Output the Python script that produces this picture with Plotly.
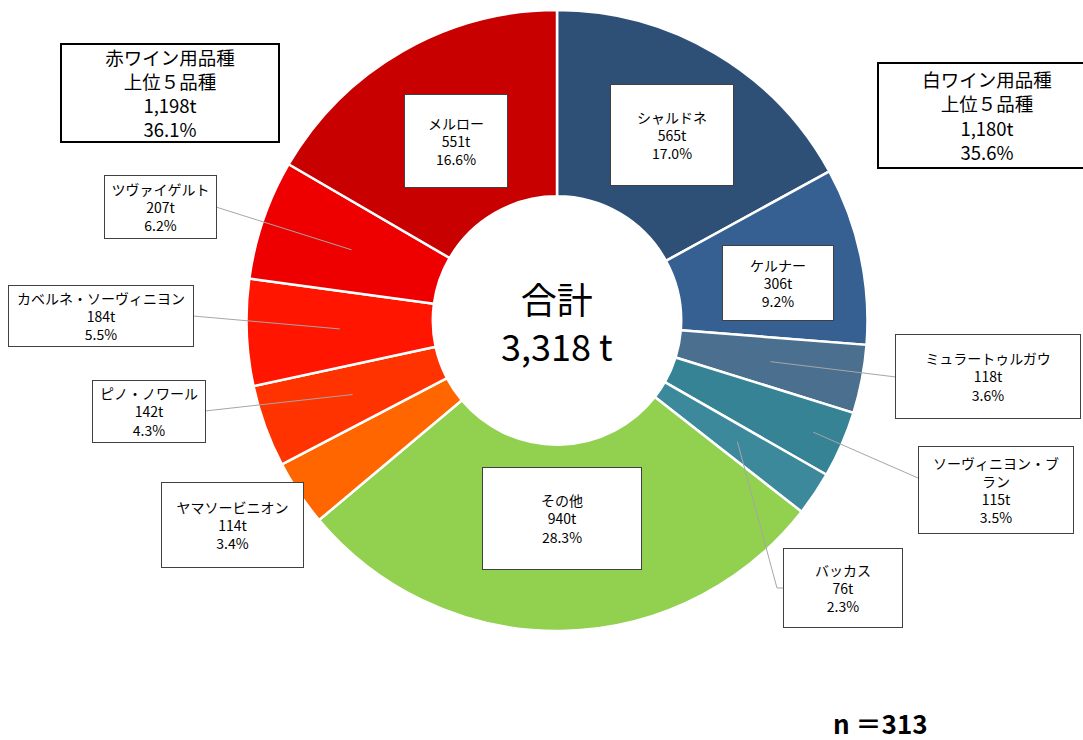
import math
import plotly.graph_objects as go

# ---------------- data ----------------
varieties = ["シャルドネ", "ケルナー", "ミュラートゥルガウ", "ソーヴィニヨン・ブラン", "バッカス",
             "その他", "ヤマソービニオン", "ピノ・ノワール", "カベルネ・ソーヴィニヨン", "ツヴァイゲルト", "メルロー"]
label_text = ["シャルドネ", "ケルナー", "ミュラートゥルガウ", "ソーヴィニヨン・ブ<br>ラン", "バッカス",
              "その他", "ヤマソービニオン", "ピノ・ノワール", "カベルネ・ソーヴィニヨン", "ツヴァイゲルト", "メルロー"]
tonnes = [565, 306, 118, 115, 76, 940, 114, 142, 184, 207, 551]
white_top5 = ["シャルドネ", "ケルナー", "ミュラートゥルガウ", "ソーヴィニヨン・ブラン", "バッカス"]
red_top5 = ["メルロー", "ツヴァイゲルト", "カベルネ・ソーヴィニヨン", "ピノ・ノワール", "ヤマソービニオン"]
respondents = 313

colors = ["#2E5077", "#366092", "#4A6F8F", "#358394", "#3D899C",
          "#92D050", "#FF6600", "#FF3300", "#FF1500", "#EE0000", "#C80000"]

# ---------------- layout constants (pixels) ----------------
W, H = 1083, 740
CX, CY, R = 557, 320.5, 310.5
HOLE = 0.40

# label boxes: x0, y0, x1, y1
boxes = {
    "シャルドネ": (611, 85, 733, 185),
    "ケルナー": (723, 246, 833, 320),
    "ミュラートゥルガウ": (896, 335, 1080, 418),
    "ソーヴィニヨン・ブラン": (919, 447, 1073, 533),
    "バッカス": (784, 549, 902, 627),
    "その他": (483, 468, 641, 569),
    "ヤマソービニオン": (162, 483, 303, 567),
    "ピノ・ノワール": (93, 381, 205, 442),
    "カベルネ・ソーヴィニヨン": (9, 286, 193, 346),
    "ツヴァイゲルト": (105, 176, 216, 238),
    "メルロー": (405, 95, 507, 187),
}
# leader lines: (box-edge point, optional elbow, anchor radius fraction)
leaders = {
    "ミュラートゥルガウ": ((896, 377), None, 0.70),
    "ソーヴィニヨン・ブラン": ((918, 478), None, 0.90),
    "バッカス": ((784, 588), (777, 588), 0.70),
    "ピノ・ノワール": ((205, 411), None, 0.70),
    "カベルネ・ソーヴィニヨン": ((193, 316), None, 0.70),
    "ツヴァイゲルト": ((216, 207), None, 0.70),
}

FONT = "Noto Sans CJK JP"


def px(x):
    return x / W


def py(y):
    return 1 - y / H


total = sum(tonnes)

fig = go.Figure(go.Pie(
    labels=varieties, values=tonnes, hole=HOLE, sort=False, direction="clockwise",
    rotation=0, textinfo="none", hoverinfo="label+value+percent",
    marker=dict(colors=colors, line=dict(color="white", width=2.5)),
    domain=dict(x=[px(CX - R), px(CX + R)], y=[py(CY + R), py(CY - R)]),
    showlegend=False,
))

annotations = []
shapes = []

# mid angles for anchors
cum = 0
mid_angle = {}
for name, v in zip(varieties, tonnes):
    mid_angle[name] = (cum + v / 2) / total * 2 * math.pi
    cum += v

for name, lt, v in zip(varieties, label_text, tonnes):
    x0, y0, x1, y1 = boxes[name]
    pct = v / total * 100
    annotations.append(dict(
        x=px((x0 + x1) / 2), y=py((y0 + y1) / 2), xref="paper", yref="paper",
        xanchor="center", yanchor="middle", showarrow=False,
        text=f"{lt}<br>{v}t<br>{pct:.1f}%",
        width=x1 - x0, height=y1 - y0, borderpad=0,
        bgcolor="white", bordercolor="#404040", borderwidth=1,
        font=dict(family=FONT, size=14, color="black"), align="center", valign="middle",
    ))
    if name in leaders:
        (ex, ey), elbow, frac = leaders[name]
        a = mid_angle[name]
        r = frac * R
        ax_ = CX + r * math.sin(a)
        ay_ = CY - r * math.cos(a)
        pts = [(ax_, ay_)]
        if elbow:
            pts.append(elbow)
        pts.append((ex, ey))
        path = "M " + " L ".join(f"{px(x):.5f},{py(y):.5f}" for x, y in pts)
        shapes.append(dict(type="path", path=path, xref="paper", yref="paper",
                           line=dict(color="#A6A6A6", width=1), layer="above"))

# group summary boxes
white_sum = sum(v for n, v in zip(varieties, tonnes) if n in white_top5)
red_sum = sum(v for n, v in zip(varieties, tonnes) if n in red_top5)
for title, s, (x0, y0, x1, y1) in [
    ("赤ワイン用品種", red_sum, (62, 45, 278, 141)),
    ("白ワイン用品種", white_sum, (879, 64, 1095, 167)),
]:
    annotations.append(dict(
        x=px((x0 + x1) / 2), y=py((y0 + y1) / 2), xref="paper", yref="paper",
        xanchor="center", yanchor="middle", showarrow=False,
        text=f"{title}<br>上位５品種<br>{s:,}t<br>{s / total * 100:.1f}%",
        width=x1 - x0, height=y1 - y0, borderpad=0,
        bgcolor="white", bordercolor="black", borderwidth=2,
        font=dict(family=FONT, size=18.5, color="black"), align="center", valign="middle",
    ))

# centre total
annotations.append(dict(
    x=px(CX), y=py(CY + 1), xref="paper", yref="paper", xanchor="center", yanchor="middle",
    showarrow=False, text=f"合計<br>{total:,} t",
    font=dict(family=FONT, size=36, color="black"), align="center",
))
# respondents
annotations.append(dict(
    x=px(880), y=py(722), xref="paper", yref="paper", xanchor="center", yanchor="middle",
    showarrow=False, text=f"<b>n ＝{respondents}</b>",
    font=dict(family=FONT, size=26, color="black"),
))

fig.update_layout(
    width=W, height=H, margin=dict(l=0, r=0, t=0, b=0),
    paper_bgcolor="white", plot_bgcolor="white",
    annotations=annotations, shapes=shapes,
)

fig.write_html("out.html", config={"displayModeBar": False},
               post_script="document.body.style.margin='0';document.body.style.overflow='hidden';")
